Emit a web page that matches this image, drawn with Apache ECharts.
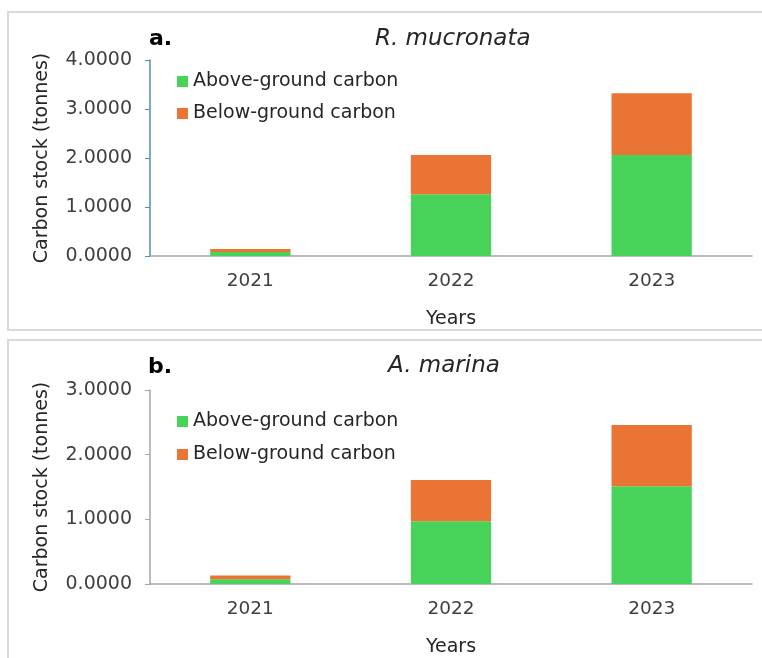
<!DOCTYPE html>
<html>
<head>
<meta charset="utf-8">
<script src="https://cdn.jsdelivr.net/npm/echarts@6/dist/echarts.min.js"></script>
<style>
html,body{margin:0;padding:0;background:#fff;}
#main{width:762px;height:658px;}
</style>
</head>
<body>
<div id="main"></div>
<script>
const years = ['2021', '2022', '2023'];
const aboveA = [0.08, 1.26, 2.06];
const belowA = [0.065, 0.80, 1.26];
const aboveB = [0.075, 0.97, 1.51];
const belowB = [0.055, 0.64, 0.95];
const seriesNames = ['Above-ground carbon', 'Below-ground carbon'];
const colors = ['#47d35a', '#e97433'];

const FONT = 'DejaVu Sans';
const chart = echarts.init(document.getElementById('main'));

function yAxis(gridIndex, max, lineColor) {
  return {
    type: 'value', gridIndex: gridIndex, min: 0, max: max, interval: 1,
    name: 'Carbon stock (tonnes)', nameLocation: 'middle', nameGap: 98, nameRotate: 90,
    nameTextStyle: {fontFamily: FONT, fontSize: 19, color: '#262626'},
    axisLine: {show: true, lineStyle: {color: lineColor, width: 1.5}},
    axisTick: {show: true, length: 5, lineStyle: {color: lineColor}},
    splitLine: {show: false},
    axisLabel: {formatter: v => v.toFixed(4), fontFamily: FONT, fontSize: 19, color: '#404040', margin: 18}
  };
}
function xAxis(gridIndex) {
  return {
    type: 'category', gridIndex: gridIndex, data: years,
    name: 'Years', nameLocation: 'middle', nameGap: 54,
    nameTextStyle: {fontFamily: FONT, fontSize: 19, color: '#262626'},
    axisLine: {lineStyle: {color: '#a6a6a6', width: 1.5}},
    axisTick: {show: false},
    axisLabel: {fontFamily: FONT, fontSize: 18.5, color: '#404040', margin: 16}
  };
}
function bar(name, data, xi, color) {
  return {
    type: 'bar', name: name, data: data, stack: 's' + xi, xAxisIndex: xi, yAxisIndex: xi,
    barWidth: '40%', itemStyle: {color: color}
  };
}

chart.setOption({
  animation: false,
  color: colors,
  title: [
    {text: 'a.', left: 144, top: 23, textStyle: {fontFamily: FONT, fontSize: 22, fontWeight: 'bold', color: '#000'}},
    {text: 'R. mucronata', left: 370, top: 23, textStyle: {fontFamily: FONT, fontSize: 23, fontStyle: 'italic', fontWeight: 'normal', color: '#262626'}},
    {text: 'b.', left: 143, top: 351, textStyle: {fontFamily: FONT, fontSize: 22, fontWeight: 'bold', color: '#000'}},
    {text: 'A. marina', left: 383, top: 350, textStyle: {fontFamily: FONT, fontSize: 23, fontStyle: 'italic', fontWeight: 'normal', color: '#262626'}}
  ],
  legend: [
    {data: seriesNames, orient: 'vertical', left: 172, top: 67, itemWidth: 11, itemHeight: 11, itemGap: 13,
     icon: 'rect', textStyle: {fontFamily: FONT, fontSize: 19, color: '#262626'}},
    {data: seriesNames, orient: 'vertical', left: 172, top: 407, itemWidth: 11, itemHeight: 11, itemGap: 14,
     icon: 'rect', textStyle: {fontFamily: FONT, fontSize: 19, color: '#262626'}}
  ],
  grid: [
    {left: 150, right: 10, top: 60, height: 196},
    {left: 150, right: 10, top: 390, height: 199}
  ],
  xAxis: [xAxis(0), xAxis(1)],
  yAxis: [yAxis(0, 4, '#4f8fb3'), yAxis(1, 3, '#a6a6a6')],
  series: [
    bar(seriesNames[0], aboveA, 0, colors[0]),
    bar(seriesNames[1], belowA, 0, colors[1]),
    bar(seriesNames[0], aboveB, 1, colors[0]),
    bar(seriesNames[1], belowB, 1, colors[1])
  ],
  graphic: [
    {type: 'rect', shape: {x: 8, y: 12, width: 762, height: 318}, style: {fill: 'none', stroke: '#d9d9d9', lineWidth: 2}, silent: true},
    {type: 'rect', shape: {x: 8, y: 340, width: 762, height: 330}, style: {fill: 'none', stroke: '#d9d9d9', lineWidth: 2}, silent: true}
  ]
});
</script>
</body>
</html>
